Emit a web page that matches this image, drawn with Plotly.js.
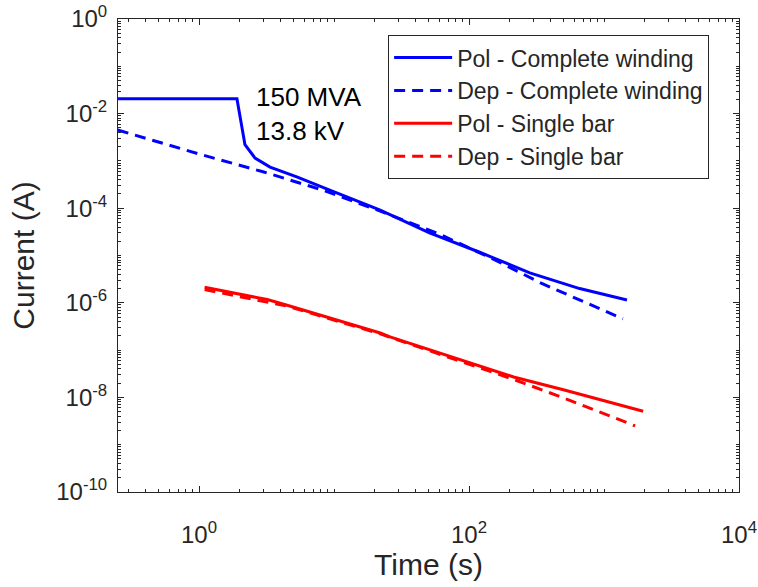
<!DOCTYPE html>
<html>
<head>
<meta charset="utf-8">
<script src="https://cdn.plot.ly/plotly-3.0.1.min.js"></script>
<style>html,body{margin:0;padding:0;background:#fff;}#chart{width:758px;height:587px;}</style>
</head>
<body>
<div id="chart"></div>
<script>
// Pol - Complete winding
const polCompleteT = [0.25, 1.0, 1.91, 2.19, 2.6, 3.36, 5.3, 9.3, 12.5, 22, 51, 120, 282, 660, 1480];
const polCompleteI = [0.0207, 0.0207, 0.0207, 2.2e-3, 1.15e-3, 7.4e-4, 4.6e-4, 2.4e-4, 1.73e-4, 9.1e-5, 3.0e-5, 1.17e-5, 4.3e-6, 2.0e-6, 1.15e-6];
// Dep - Complete winding
const depCompleteT = [0.25, 1.0, 2.98, 8.3, 22, 61, 158, 339, 1380];
const depCompleteI = [4.5e-3, 1.4e-3, 5.9e-4, 2.4e-4, 8.7e-5, 2.8e-5, 7.9e-6, 2.63e-6, 4.6e-7];
// Pol - Single bar
const polSingleT = [1.1, 3.2, 4.5, 22, 26, 214, 500, 1950];
const polSingleI = [2.14e-6, 1.17e-6, 8.9e-7, 2.3e-7, 1.9e-7, 2.7e-8, 1.45e-8, 5.1e-9];
// Dep - Single bar
const depSingleT = [1.1, 4.5, 22, 214, 500, 1700];
const depSingleI = [1.9e-6, 8.5e-7, 2.2e-7, 2.4e-8, 9.8e-9, 2.5e-9];

const seriesNames = ['Pol - Complete winding', 'Dep - Complete winding', 'Pol - Single bar', 'Dep - Single bar'];
const xTickVals = [1, 100, 10000];
const xTickText = ['10<sup>0</sup>', '10<sup>2</sup>', '10<sup>4</sup>'];
const yTickVals = [1e-10, 1e-8, 1e-6, 1e-4, 1e-2, 1];
const yTickText = ['10<sup>-10</sup>', '10<sup>-8</sup>', '10<sup>-6</sup>', '10<sup>-4</sup>', '10<sup>-2</sup>', '10<sup>0</sup>'];

const FONT = 'Liberation Sans, Arial, Helvetica, sans-serif';
const TXT = '#262626';
const DASH = '11px,7px';

const traces = [
  {x: polCompleteT, y: polCompleteI, name: seriesNames[0], mode: 'lines', line: {color: '#0000FF', width: 3}},
  {x: depCompleteT, y: depCompleteI, name: seriesNames[1], mode: 'lines', line: {color: '#0000FF', width: 3, dash: DASH}},
  {x: polSingleT, y: polSingleI, name: seriesNames[2], mode: 'lines', line: {color: '#FF0000', width: 3}},
  {x: depSingleT, y: depSingleI, name: seriesNames[3], mode: 'lines', line: {color: '#FF0000', width: 3, dash: DASH}}
];

const axisCommon = {
  type: 'log', showgrid: false, zeroline: false,
  showline: true, linecolor: TXT, linewidth: 1, mirror: 'ticks',
  ticks: 'inside', ticklen: 6, tickcolor: TXT, tickwidth: 1,
  tickfont: {family: FONT, size: 24, color: TXT},
  minor: {ticks: 'inside', ticklen: 3, tickcolor: TXT, dtick: 'D1', showgrid: false}
};

const layout = {
  width: 758, height: 587,
  margin: {l: 118, r: 19, t: 19, b: 95},
  paper_bgcolor: '#fff', plot_bgcolor: '#fff',
  font: {family: FONT, color: TXT},
  showlegend: true,
  legend: {
    x: 0.435, y: 0.966, xanchor: 'left', yanchor: 'top',
    bgcolor: '#fff', bordercolor: TXT, borderwidth: 1,
    font: {family: FONT, size: 23, color: TXT},
    traceorder: 'normal', itemwidth: 58
  },
  xaxis: Object.assign({}, axisCommon, {
    range: [-0.6, 4], tickmode: 'array', tickvals: xTickVals, ticktext: xTickText,
    ticklabelstandoff: 21,
    title: {text: 'Time (s)', font: {family: FONT, size: 30, color: TXT}, standoff: 2}
  }),
  yaxis: Object.assign({}, axisCommon, {
    range: [-10, 0], tickmode: 'array', tickvals: yTickVals, ticktext: yTickText,
    ticklabelstandoff: 5,
    title: {text: 'Current (A)', font: {family: FONT, size: 30, color: TXT}, standoff: 12}
  }),
  annotations: [{
    xref: 'paper', yref: 'paper', x: 0.219, y: 0.87, xanchor: 'left', yanchor: 'top',
    text: '150 MVA<br>13.8 kV', showarrow: false, align: 'left',
    font: {family: FONT, size: 26, color: '#000'}
  }]
};

Plotly.newPlot('chart', traces, layout, {displayModeBar: false, staticPlot: true});
</script>
</body>
</html>
